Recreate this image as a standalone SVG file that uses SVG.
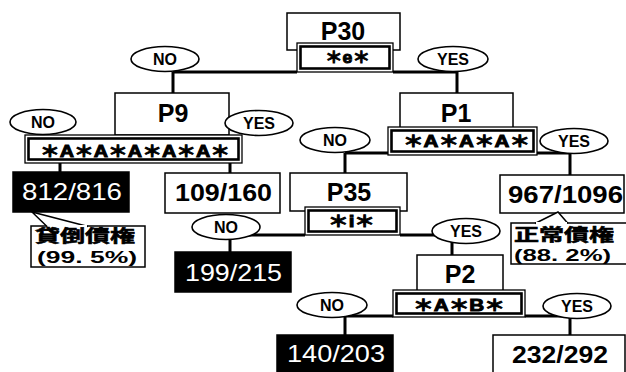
<svg xmlns="http://www.w3.org/2000/svg" width="626" height="372" viewBox="0 0 626 372">
<style>
.bg{fill:#fff}
.box{fill:#fff;stroke:#000;stroke-width:1.5}
.dbo{fill:#fff;stroke:#000;stroke-width:1.3}
.dbi{fill:none;stroke:#000;stroke-width:2.6}
.blk{fill:#000;stroke:#000;stroke-width:1.5}
.ell{fill:#fff;stroke:#000;stroke-width:1.6}
.ln{stroke:#000;stroke-width:3;fill:none}
.tail{stroke:#000;stroke-width:1.5;fill:#fff}
.p{font-family:"Liberation Sans","DejaVu Sans",sans-serif;font-weight:bold;font-size:25px;text-anchor:middle;fill:#000}
.yn{font-family:"Liberation Sans","DejaVu Sans",sans-serif;font-weight:bold;font-size:16px;text-anchor:middle;fill:#000}
.cond{font-family:"Liberation Sans","Noto Sans CJK JP",sans-serif;font-weight:bold;font-size:16px;fill:#000;stroke:#000;stroke-width:0.9}
.num{font-family:"Liberation Sans","DejaVu Sans",sans-serif;font-weight:bold;font-size:24px;fill:#000}
.numw{font-family:"Liberation Sans","DejaVu Sans",sans-serif;font-weight:normal;font-size:24px;fill:#fff}
.cj{font-family:"Noto Sans CJK JP","Noto Sans CJK SC",sans-serif;font-weight:bold;font-size:17px;fill:#000;stroke:#000;stroke-width:0.6}
.pc{font-family:"Liberation Sans","DejaVu Sans",sans-serif;font-weight:bold;font-size:16px;fill:#000}
</style>
<rect class="bg" x="0" y="0" width="626" height="372"/>

<g id="connectors">
<path class="ln" d="M173,72 H297 M393,72 H457 M173,72 V93 M457,72 V93"/>
<path class="ln" d="M173,133 V136 M60,163 V173 M230,163 V174"/>
<path class="ln" d="M345,153 H388 M345,153 V173 M537,153 H570 V175"/>
<path class="ln" d="M230,235 H305 M400,235 H452 M230,235 V252 M452,235 V255"/>
<path class="ln" d="M345,316 H393 M525,316 H570 M345,316 V335 M570,316 V335"/>
</g>

<g id="P30">
<rect class="box" x="287" y="13" width="113" height="37"/>
<text class="p" x="343" y="40">P30</text>
<rect class="dbo" x="297" y="43" width="96" height="29"/>
<rect class="dbi" x="300.5" y="46.5" width="89" height="22"/>
<text class="cond" x="325" y="63" textLength="45" lengthAdjust="spacingAndGlyphs">＊e＊</text>
</g>

<g id="noTop"><ellipse class="ell" cx="165" cy="59" rx="34" ry="12.5"/><text class="yn" x="165" y="65">NO</text></g>
<g id="yesTop"><ellipse class="ell" cx="453" cy="59" rx="35" ry="12.5"/><text class="yn" x="453" y="65">YES</text></g>

<g id="P9">
<rect class="box" x="115" y="93" width="114" height="42"/>
<text class="p" x="173" y="122">P9</text>
<rect class="dbo" x="25" y="135" width="217" height="28"/>
<rect class="dbi" x="28.5" y="138.5" width="210" height="21"/>
<text class="cond" x="40" y="157" textLength="190" lengthAdjust="spacingAndGlyphs">＊A＊A＊A＊A＊A＊</text>
</g>

<g id="noP9"><ellipse class="ell" cx="43" cy="122" rx="33" ry="12.5"/><text class="yn" x="43" y="128">NO</text></g>
<g id="yesP9"><ellipse class="ell" cx="259" cy="123" rx="34" ry="12.5"/><text class="yn" x="259" y="129">YES</text></g>

<g id="P1">
<rect class="box" x="400" y="93" width="113" height="35"/>
<text class="p" x="456" y="122">P1</text>
<rect class="dbo" x="388" y="127" width="149" height="28"/>
<rect class="dbi" x="391.5" y="130.5" width="142" height="21"/>
<text class="cond" x="403" y="147" textLength="127" lengthAdjust="spacingAndGlyphs">＊A＊A＊A＊</text>
</g>

<g id="noP1"><ellipse class="ell" cx="335" cy="140" rx="35" ry="12.5"/><text class="yn" x="335" y="146">NO</text></g>
<g id="yesP1"><ellipse class="ell" cx="574" cy="141" rx="34" ry="12.5"/><text class="yn" x="574" y="147">YES</text></g>

<g id="n812">
<rect class="blk" x="13" y="172" width="116" height="40"/>
<text class="numw" x="22" y="200" textLength="100" lengthAdjust="spacingAndGlyphs">812/816</text>
</g>

<g id="callout1">
<rect class="box" x="31" y="226" width="114" height="41"/>
<path class="tail" d="M47,226.5 L32,212 L88,226.5"/>
<path d="M48,226 H87" stroke="#fff" stroke-width="2"/>
<text class="cj" x="35" y="242" textLength="100" lengthAdjust="spacingAndGlyphs">貸倒債権</text>
<text class="pc" x="37" y="263" textLength="100" lengthAdjust="spacingAndGlyphs">(99. 5%)</text>
</g>

<g id="n109">
<rect class="box" x="165" y="173" width="115" height="40"/>
<text class="num" x="175" y="201" textLength="97" lengthAdjust="spacingAndGlyphs">109/160</text>
</g>

<g id="n967">
<rect class="box" x="500" y="175" width="124" height="38"/>
<text class="num" x="508" y="203" textLength="115" lengthAdjust="spacingAndGlyphs">967/1096</text>
</g>

<g id="callout2">
<rect class="box" x="511" y="223" width="116" height="41"/>
<path class="tail" d="M535,223.5 L558,212 L568,223.5"/>
<path d="M536,223 H567" stroke="#fff" stroke-width="2"/>
<text class="cj" x="514" y="241" textLength="100" lengthAdjust="spacingAndGlyphs">正常債権</text>
<text class="pc" x="514" y="261" textLength="97" lengthAdjust="spacingAndGlyphs">(88. 2%)</text>
</g>

<g id="P35">
<rect class="box" x="290" y="173" width="117" height="38"/>
<text class="p" x="349" y="201">P35</text>
<rect class="dbo" x="305" y="207" width="95" height="28"/>
<rect class="dbi" x="308.5" y="210.5" width="88" height="21"/>
<text class="cond" x="328" y="227" textLength="47" lengthAdjust="spacingAndGlyphs">＊i＊</text>
</g>

<g id="noP35"><ellipse class="ell" cx="226" cy="227" rx="34" ry="12.5"/><text class="yn" x="226" y="233">NO</text></g>
<g id="yesP35"><ellipse class="ell" cx="466" cy="231" rx="34" ry="12.5"/><text class="yn" x="466" y="237">YES</text></g>

<g id="n199">
<rect class="blk" x="175" y="252" width="116" height="40"/>
<text class="numw" x="185" y="281" textLength="97" lengthAdjust="spacingAndGlyphs">199/215</text>
</g>

<g id="P2">
<rect class="box" x="417" y="255" width="86" height="36"/>
<text class="p" x="460" y="283">P2</text>
<rect class="dbo" x="393" y="290" width="132" height="27"/>
<rect class="dbi" x="396.5" y="293.5" width="125" height="20"/>
<text class="cond" x="413" y="311" textLength="92" lengthAdjust="spacingAndGlyphs">＊A＊B＊</text>
</g>

<g id="noP2"><ellipse class="ell" cx="332" cy="305" rx="35" ry="12.5"/><text class="yn" x="332" y="311">NO</text></g>
<g id="yesP2"><ellipse class="ell" cx="577" cy="306" rx="34" ry="12.5"/><text class="yn" x="577" y="312">YES</text></g>

<g id="n140">
<rect class="blk" x="277" y="335" width="116" height="40"/>
<text class="numw" x="287" y="362" textLength="98" lengthAdjust="spacingAndGlyphs">140/203</text>
</g>

<g id="n232">
<rect class="box" x="493" y="335" width="132" height="40"/>
<text class="num" x="512" y="363" textLength="96" lengthAdjust="spacingAndGlyphs">232/292</text>
</g>
</svg>
